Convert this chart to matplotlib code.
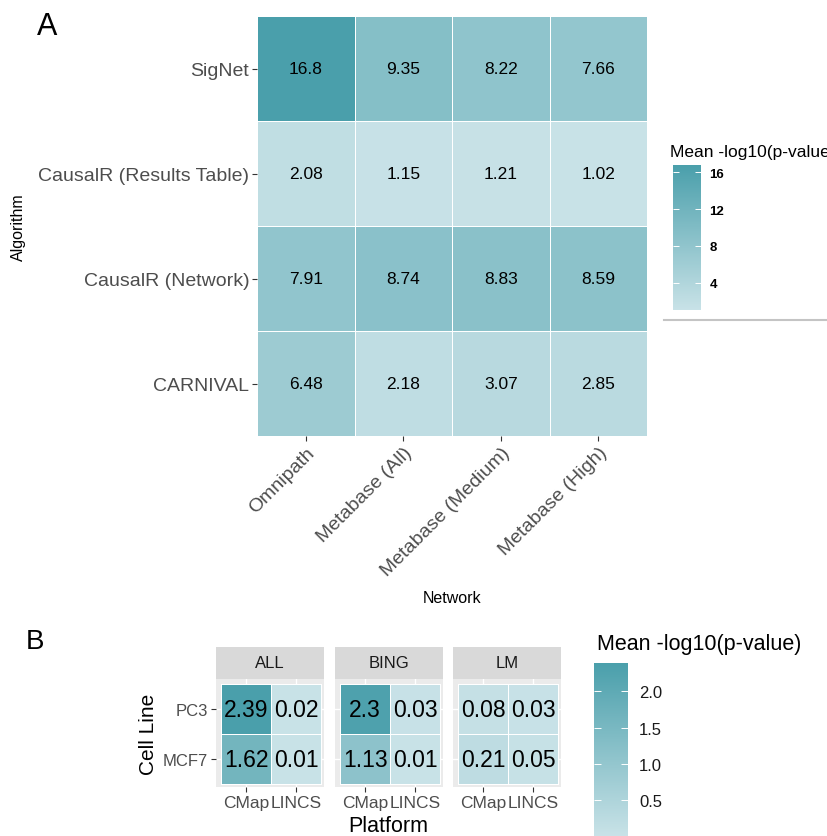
import numpy as np
import matplotlib
matplotlib.use('Agg')
import matplotlib.pyplot as plt
from matplotlib.colors import LinearSegmentedColormap
from matplotlib.patches import Rectangle
from matplotlib.lines import Line2D

plt.rcParams['font.family'] = ['Liberation Sans', 'DejaVu Sans']

# panel A: algorithm x network
algorithms = ['SigNet', 'CausalR (Results Table)', 'CausalR (Network)', 'CARNIVAL']
networks = ['Omnipath', 'Metabase (All)', 'Metabase (Medium)', 'Metabase (High)']
signet = [16.8, 9.35, 8.22, 7.66]
causalr_table = [2.08, 1.15, 1.21, 1.02]
causalr_network = [7.91, 8.74, 8.83, 8.59]
carnival = [6.48, 2.18, 3.07, 2.85]

# panel B: cell line x platform, one facet per gene set
facets = ['ALL', 'BING', 'LM']
platforms = ['CMap', 'LINCS']
cell_lines = ['PC3', 'MCF7']
all_pc3 = [2.39, 0.02]
all_mcf7 = [1.62, 0.01]
bing_pc3 = [2.3, 0.03]
bing_mcf7 = [1.13, 0.01]
lm_pc3 = [0.08, 0.03]
lm_mcf7 = [0.21, 0.05]

W, H = 827, 837
GREY30 = '#4d4d4d'
cmap = LinearSegmentedColormap.from_list('teal', ['#c8e2e7', '#4a9fab'])


def fbox(x0, y0, x1, y1):
    # pixel box -> figure fraction rect
    return [x0 / W, 1 - y1 / H, (x1 - x0) / W, (y1 - y0) / H]


fig = plt.figure(figsize=(W / 100, H / 100), dpi=100)

# ---------------- panel A ----------------
A = np.array([signet, causalr_table, causalr_network, carnival])
axA = fig.add_axes(fbox(257, 17, 647, 437))
meshA = axA.pcolormesh(np.arange(len(networks) + 1) - 0.5,
                       np.arange(len(algorithms) + 1) - 0.5, A,
                       cmap=cmap, vmin=A.min(), vmax=A.max(),
                       edgecolors='white', linewidth=0.5)
for i in range(A.shape[0]):
    for j in range(A.shape[1]):
        axA.text(j, i, '{:g}'.format(A[i, j]), ha='center', va='center',
                 fontsize=12.5, color='black')
axA.set_xlim(-0.5, len(networks) - 0.5)
axA.set_ylim(len(algorithms) - 0.5, -0.5)
axA.set_xticks(range(len(networks)))
axA.set_xticklabels(networks, rotation=45, ha='right', va='top',
                    rotation_mode='anchor', fontsize=14, color=GREY30)
axA.set_yticks(range(len(algorithms)))
axA.set_yticklabels(algorithms, fontsize=14, color=GREY30)
axA.tick_params(length=3.5, width=0.8, color='#333333', pad=2)
for s in axA.spines.values():
    s.set_visible(False)
axA.set_xlabel('Network', fontsize=11.5, labelpad=8)
axA.set_ylabel('Algorithm', fontsize=11.5, va='center')
axA.yaxis.set_label_coords((18 - 257) / 390, 0.5)

caxA = fig.add_axes(fbox(673, 166, 701, 311))
cbA = fig.colorbar(meshA, cax=caxA, ticks=[4, 8, 12, 16])
cbA.outline.set_visible(False)
caxA.tick_params(axis='y', direction='in', length=4, width=0.7, color='white',
                 left=True, right=True, labelsize=9.5, pad=6)
for t in caxA.get_yticklabels():
    t.set_fontweight('bold')
fig.text(670 / W, 1 - 152 / H, 'Mean -log10(p-value)', fontsize=12.5,
         ha='left', va='center')
fig.add_artist(Line2D([664 / W, 1.0], [1 - 320.5 / H] * 2,
                      color='#c4c4c4', lw=1.5))

fig.text(47 / W, 1 - 27 / H, 'A', fontsize=22, ha='center', va='center')

# ---------------- panel B ----------------
B = {'ALL': np.array([all_pc3, all_mcf7]),
     'BING': np.array([bing_pc3, bing_mcf7]),
     'LM': np.array([lm_pc3, lm_mcf7])}
bmin = min(v.min() for v in B.values())
bmax = max(v.max() for v in B.values())
lefts = [216, 335, 453]
strip_h = 32 / 108
for k, name in enumerate(facets):
    ax = fig.add_axes(fbox(lefts[k], 680, lefts[k] + 108, 788))
    ax.set_facecolor('#ebebeb')
    ax.set_axisbelow(True)
    ax.grid(True, color='white', lw=1.0)
    mesh = ax.pcolormesh(np.arange(len(platforms) + 1) - 0.5,
                         np.arange(len(cell_lines) + 1) - 0.5, B[name],
                         cmap=cmap, vmin=bmin, vmax=bmax,
                         edgecolors='white', linewidth=0.5, zorder=2)
    for i in range(len(cell_lines)):
        for j in range(len(platforms)):
            ax.text(j, i, '{:g}'.format(B[name][i, j]), ha='center',
                    va='center', fontsize=16.5, color='black', zorder=3)
    ax.set_xlim(-0.6, len(platforms) - 0.45)
    ax.set_ylim(len(cell_lines) - 0.45, -0.6)
    ax.set_xticks(range(len(platforms)))
    ax.set_xticklabels(platforms, fontsize=12.5, color=GREY30)
    ax.set_yticks(range(len(cell_lines)))
    if k == 0:
        ax.set_yticklabels(cell_lines, fontsize=12, color=GREY30)
        ax.set_ylabel('Cell Line', fontsize=15, labelpad=4)
    else:
        ax.tick_params(axis='y', left=False, labelleft=False)
    ax.tick_params(length=3.5, width=0.8, color='#333333', pad=2)
    for s in ax.spines.values():
        s.set_visible(False)
    ax.add_patch(Rectangle((0, 1), 1, strip_h, transform=ax.transAxes,
                           color='#d9d9d9', clip_on=False, lw=0))
    ax.text(0.5, 1 + strip_h / 2, name, transform=ax.transAxes,
            ha='center', va='center', fontsize=12, color='#1a1a1a')

fig.text(388 / W, 1 - 827 / H, 'Platform', fontsize=15.5,
         ha='center', va='center')

caxB = fig.add_axes(fbox(594, 664, 628, 837))
cbB = fig.colorbar(mesh, cax=caxB, ticks=[0.5, 1.0, 1.5, 2.0])
cbB.outline.set_visible(False)
caxB.tick_params(axis='y', direction='in', length=5, width=0.7, color='white',
                 left=True, right=True, labelsize=12, labelcolor='#1a1a1a', pad=8)
fig.text(597 / W, 1 - 645 / H, 'Mean -log10(p-value)', fontsize=15.5,
         ha='left', va='center')

fig.text(35 / W, 1 - 642 / H, 'B', fontsize=20, ha='center', va='center')

fig.savefig('out.png', dpi=100)
